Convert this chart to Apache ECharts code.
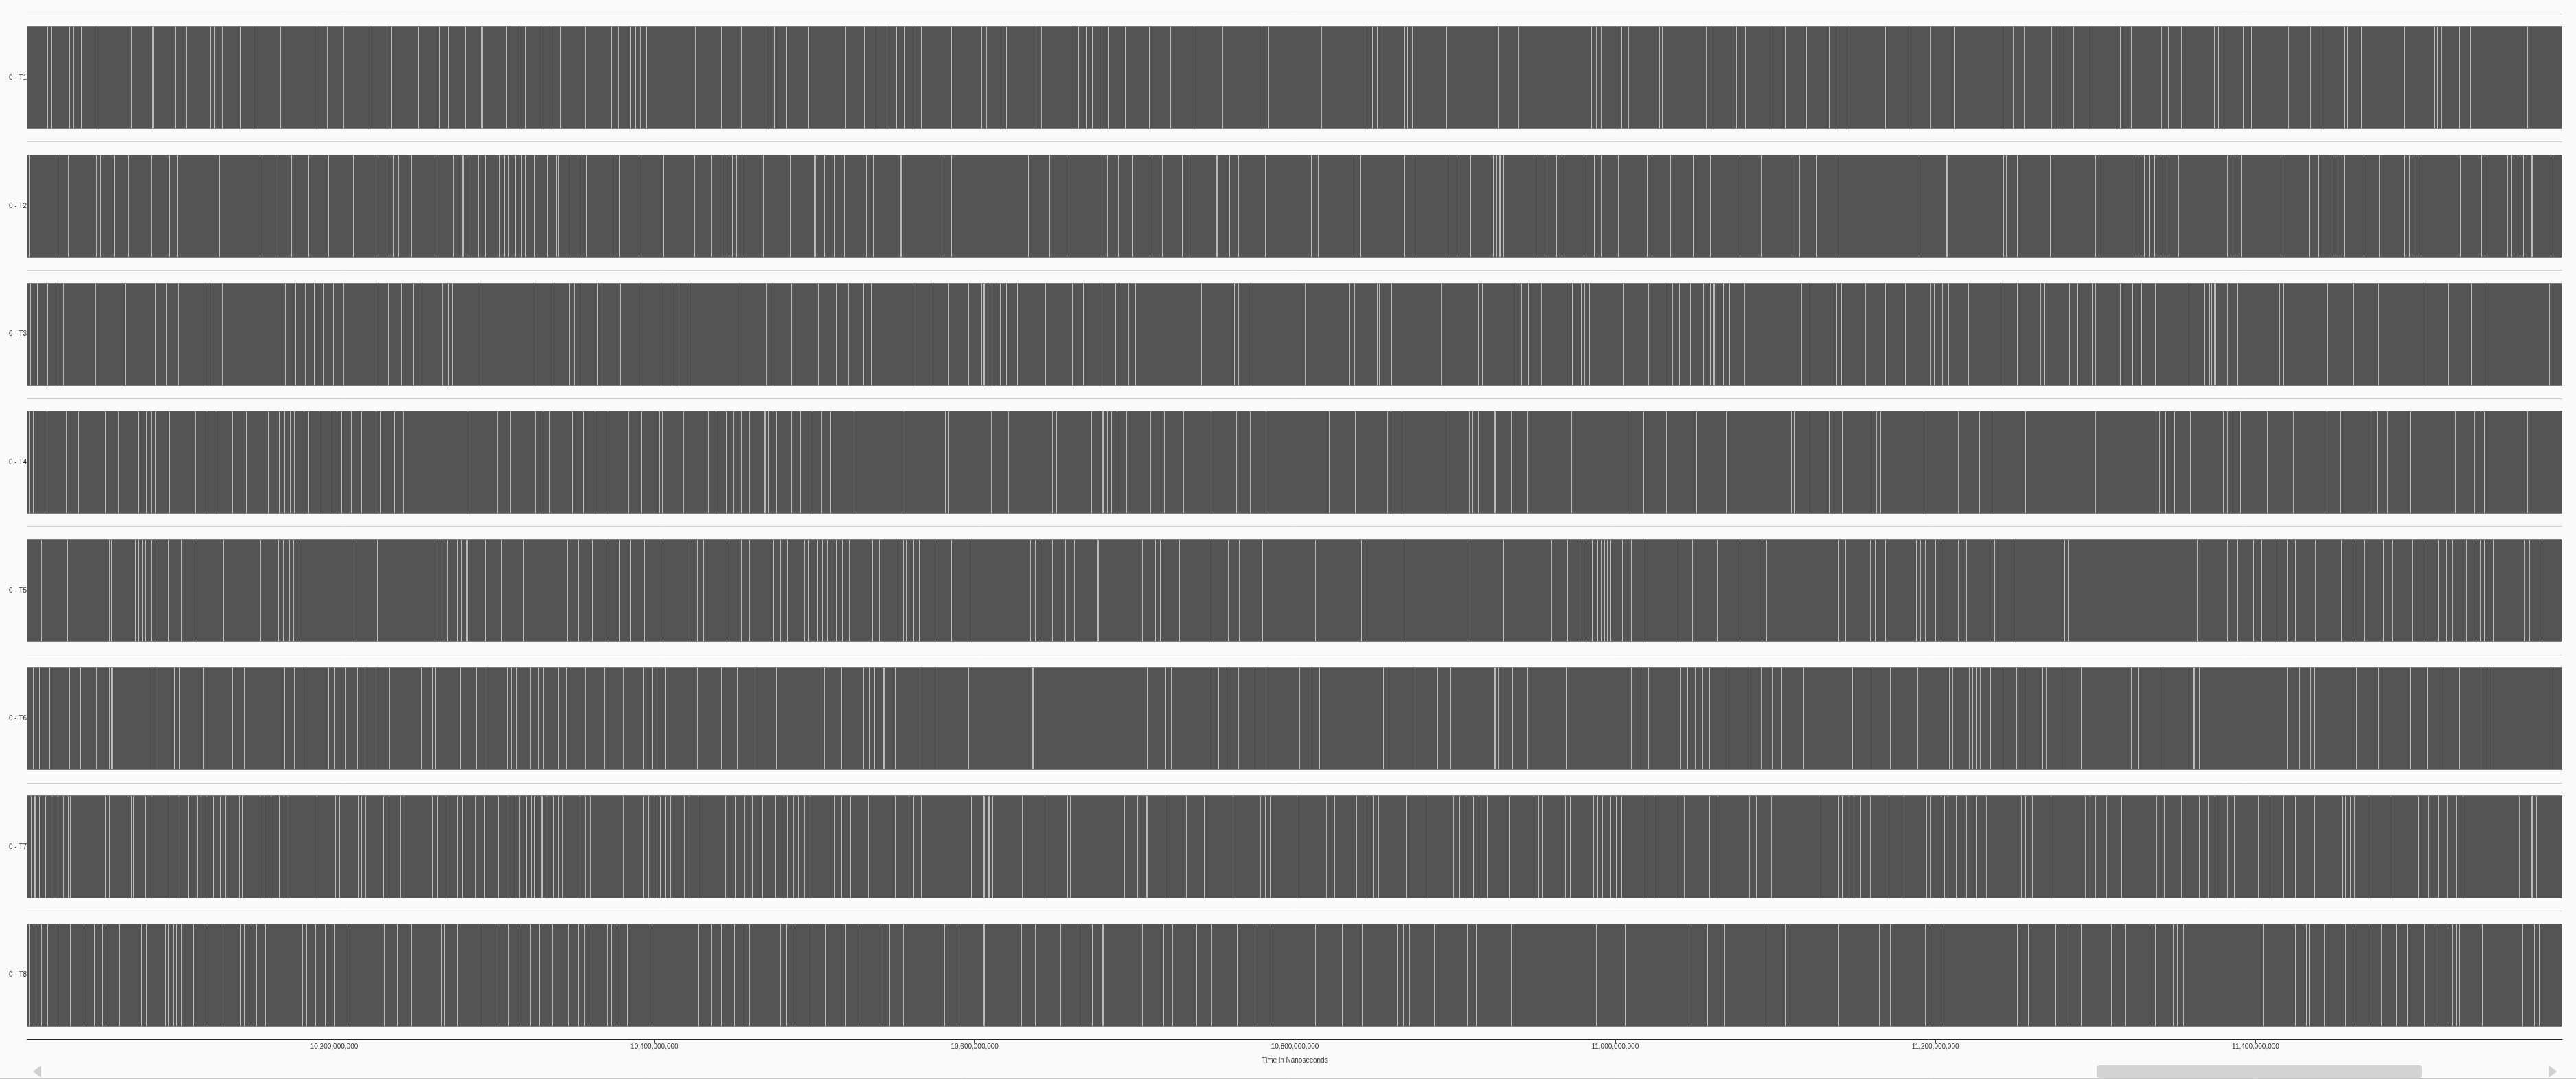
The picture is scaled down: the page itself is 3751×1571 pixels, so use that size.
<!DOCTYPE html>
<html>
<head>
<meta charset="utf-8">
<title>Timeline</title>
<script src="https://cdn.jsdelivr.net/npm/echarts@6/dist/echarts.min.js"></script>
<style>
html, body { margin: 0; padding: 0; background: #fafafa; }
#chart { width: 3751px; height: 1571px; }
</style>
</head>
<body>
<div id="chart"></div>
<script>
// Time base: values below are milliseconds after T0 (10,000,000,000 ns)
const T0 = 10000000000;
const VIEW_START = 8.5;
const VIEW_END = 1591.5;
const GAP_MS = 0.45;

const categories = ['0 - T1', '0 - T2', '0 - T3', '0 - T4', '0 - T5', '0 - T6', '0 - T7', '0 - T8'];
const xTicks = [10200000000, 10400000000, 10600000000, 10800000000, 11000000000, 11200000000, 11400000000];

// idle gaps per location (ms after T0); [t, width] marks a longer idle gap
const gapsT1 = [20.9, 23.1, 34.7, 37.3, 41.8, 52.2, [73.1, 0.7], 84.8, [86.7, 0.7], 100.7, 107.4, 122.6, 125.1, 129.7, 141.3, 149.3, 166.5, 189.2, 195.3, 205.9, 221.5, 232.6, 235.7, 252.3, 265.4, 271.5, 281.6, 292.2, 307.3, 309.4, 316.4, 319.5, 330.1, 335.1, 341.2, 356.8, 373.0, 377.5, 385.1, 388.1, 391.1, 394.7, 425.5, 441.6, 454.2, 470.9, 474.9, 482.5, 496.1, 516.3, 519.4, 531.0, 537.0, 545.1, 551.2, 556.2, 561.3, 566.3, 585.5, 604.2, 607.2, 616.3, 619.8, 638.0, 641.5, 661.2, 662.7, 664.7, 669.8, 673.3, 677.4, 683.4, 694.0, 708.7, 722.3, 736.9, [754.6, 0.7], 779.3, 783.4,
  816.3, 845.0, 848.1, 851.1, 854.1, 868.2, 870.3, 873.3, 894.5, 925.3, 927.3, 939.4, 984.9, 987.9, 990.9, 1001.0, 1004.0, 1008.1, 1027.3, 1029.3, 1056.5, 1061.1, 1073.2, 1075.7, 1081.3, 1096.4, 1106.0, [1119.1, 0.7], 1133.3, 1137.8, 1144.4, 1168.6, 1184.3, 1196.9, 1212.0, 1243.3, 1248.4, 1255.4, 1272.6, 1274.6, 1278.7, 1286.2, 1295.3, 1313.0, 1315.5, 1322.1, 1341.2, 1345.3, 1353.4, 1374.1, 1376.6, 1380.1, 1392.2, 1397.3, 1420.5, 1434.1, 1441.7, 1455.3, 1457.3, 1465.9, 1492.7, 1511.4, 1513.4, 1515.9, 1527.0, 1534.1, 1569.4];

const gapsT2 = [9.5, 28.7, 33.7, 51.4, 53.9, 62.5, 71.6, 85.7, 96.8, 101.9, 126.1, 128.1, 153.4, 164.0, 171.0, 173.1, 183.7, 196.3, 211.9, 226.1, 234.1, 236.7, 240.2, 248.3, 263.9, 274.5, 279.1, [280.1, 0.7], 284.6, 289.7, 294.2, 303.3, 306.3, 308.9, 312.9, 316.9, 319.5, 325.0, 333.1, 338.6, 340.2, 347.7, 354.8, 357.8, 375.0, 378.0, 390.1, 405.8, 425.0, 435.6, 443.6, 446.2, 448.7, 451.2, 454.7, 467.9, 485.0, 500.2, 506.2, 512.3, 518.4, 532.0, 536.5, [553.7, 0.7], 579.4, 585.5, 633.4, 646.6, 657.2, 679.4, 682.9, 689.5, 698.6, 709.2, 717.2, 729.4, 735.4, 751.1, 759.1, 764.7, 781.4,
  810.2, 814.2, 835.4, 841.0, 868.2, 876.3, 896.5, 901.1, 909.6, 923.8, 925.8, 927.8, 930.3, 951.5, 957.1, 963.2, 966.7, 980.3, 986.9, 990.9, 1002.0, 1019.7, 1022.7, 1034.3, 1048.5, 1059.1, 1077.7, 1090.9, 1111.6, 1115.1, 1125.7, 1140.3, 1189.8, 1207.0, 1242.3, 1244.3, 1250.9, 1271.6, 1299.9, 1301.9, 1325.1, 1328.1, 1330.1, 1333.2, 1336.7, 1340.7, 1344.3, 1351.9, 1382.1, 1385.7, 1388.2, 1390.7, 1417.0, 1433.1, 1435.1, 1439.2, 1448.8, 1451.3, 1455.3, 1467.4, 1477.0, 1492.7, 1495.7, 1499.2, 1503.3, 1527.5, 1540.7, 1543.2, 1557.3, 1559.8, 1562.3, 1564.9, 1566.9, 1572.4, 1584.1];

const gapsT3 = [10.0, 14.6, 19.1, 21.1, 26.2, 30.7, 50.9, 68.6, 69.6, 88.3, 95.3, 102.4, 119.1, 121.6, 129.7, 169.5, 175.6, 181.6, 187.2, 193.3, 199.3, 205.9, 227.1, 233.6, 241.7, 249.3, 254.8, 267.5, 269.5, 271.5, 273.5, 290.2, 324.5, 337.1, 346.7, 349.7, 354.8, 364.4, 366.9, 378.5, 391.6, 403.8, 410.8, 414.9, 423.4, 453.2, 469.9, 473.9, 485.5, 502.2, 513.8, 520.9, 530.5, 535.5, 562.8, 573.9, 583.5, 596.1, 604.2, 605.7, 608.2, 610.7, 613.3, 615.8, 619.8, 626.4, 644.0, 660.7, 662.7, 667.8, 679.4, 688.0, 690.0, 696.0, 700.1, 741.5, 759.7, 762.2, 764.7, 772.3,
  806.2, 833.9, 837.0, 851.1, 852.6, 860.2, 891.5, 914.2, 916.7, 937.9, 941.4, 945.5, 953.6, 969.2, 973.2, 978.8, 980.8, 983.8, 1005.0, 1020.7, 1030.8, 1035.8, 1039.9, 1046.9, 1055.0, 1059.1, 1061.6, 1065.1, 1067.6, 1071.2, 1080.8, 1116.1, 1120.1, 1136.3, 1138.3, 1141.3, 1156.0, 1168.6, 1181.2, 1196.9, 1198.9, 1201.9, 1204.4, 1208.0, 1220.6, 1240.8, 1250.9, 1265.5, 1268.1, 1283.7, 1288.7, 1297.8, 1299.9, 1315.5, 1323.1, 1328.6, 1337.2, 1356.9, 1368.0, 1371.0, 1372.5, 1374.1, 1375.1, 1382.1, 1388.7, 1414.9, 1417.5, 1444.7, 1460.9, [1476.5, 0.7], 1504.8, 1520.4, 1534.6, 1544.2, 1583.5];

const gapsT4 = [9.5, 12.0, 20.6, 32.7, 40.3, 57.0, 65.0, 77.7, 82.7, 85.7, 88.3, 96.8, 113.0, 120.6, 126.1, 136.2, 144.8, 158.4, 165.5, 167.0, 169.0, 172.6, 175.1, 181.1, 183.7, 190.2, 197.3, 201.3, [204.4, 0.7], 210.4, 217.0, 226.1, 229.1, 237.7, 243.2, 283.6, 301.8, 309.9, 325.5, 330.1, 334.6, 348.7, 355.3, 362.9, 370.9, 383.6, 392.1, [402.7, 0.7], 404.8, 417.9, 433.5, 438.1, 444.6, 449.2, 454.2, 459.3, 468.9, 471.4, 473.9, 476.0, 485.5, [491.1, 0.7], 498.2, 504.2, 509.8, 524.4, 555.7, 581.4, 583.5, 610.2, 620.8, 648.6, 651.1, 672.8, 677.4, 679.9, 682.9, 685.4, 688.5, 694.5, 709.7, 718.3, [729.9, 0.7], 747.5, 763.2, 771.8, 781.9,
  821.3, 837.5, 857.6, 859.7, 866.7, 894.0, 908.6, 910.7, 914.2, 924.8, 934.9, 945.0, 972.7, 1009.1, 1017.7, 1031.8, 1050.5, 1069.7, 1110.0, 1112.1, 1120.1, 1133.3, 1136.3, 1141.8, 1161.0, 1163.1, 1165.6, 1192.8, 1214.0, 1227.2, 1236.2, 1255.9, 1299.9, 1337.7, 1339.7, 1343.8, 1349.3, 1358.9, 1379.6, 1382.1, 1384.2, 1390.2, 1406.9, 1423.5, 1444.2, 1452.8, 1472.0, 1475.5, 1482.1, 1496.7, 1524.5, 1536.6, 1538.6, 1540.6, 1542.7, 1569.4];

const gapsT5 = [17.1, 33.2, 59.5, 61.0, 75.6, 77.7, 80.2, 81.7, 85.7, 87.8, 96.3, 104.4, 113.5, 130.7, 153.9, 165.0, 168.0, 172.1, 174.6, 179.1, 212.4, 226.6, 263.9, 267.0, 270.5, 277.1, 279.6, [282.6, 0.7], 294.2, 304.3, 318.0, 345.7, 352.3, 360.9, 371.0, 378.0, 385.1, 393.7, 405.3, 421.4, 426.5, 430.5, 445.2, 454.2, 459.3, 474.4, 478.5, 483.0, 493.6, 496.1, 501.7, 504.7, 507.7, 510.8, 513.8, 517.3, 521.4, 536.0, 540.1, 550.7, 555.2, 557.2, 560.2, 561.8, 565.3, 574.9, 585.5, [598.1, 0.7], 634.5, 637.5, 640.5, 648.6, 656.7, 662.2, 676.9, 704.6, 712.7, 715.7, 727.8, 746.0, 758.1, 765.2, 779.8,
  812.7, 841.5, 845.0, 869.3, 909.1, 928.3, 930.3, [960.1, 0.7], 970.2, 977.8, 981.8, 985.4, 988.9, 990.9, 993.4, 995.0, 997.0, 1004.5, 1010.1, 1017.2, 1037.9, 1048.0, [1063.6, 0.7], 1077.7, 1091.4, 1094.4, 1139.3, 1143.9, 1159.0, 1162.0, 1168.6, 1187.8, 1190.3, 1193.3, 1199.9, 1203.4, 1214.0, 1219.1, 1233.7, 1236.8, 1249.9, 1280.7, [1282.7, 0.7], 1363.5, 1365.0, 1382.1, 1388.7, 1398.3, 1403.8, 1411.9, 1419.5, 1424.5, 1437.2, 1453.3, 1462.4, 1467.9, 1479.6, 1485.1, 1497.7, 1504.8, 1513.9, 1518.9, 1523.0, 1531.6, 1537.6, 1540.1, 1542.7, 1545.7, 1548.2, 1567.9, 1570.9, 1578.5];

const gapsT6 = [12.0, 15.6, 22.1, 34.7, 41.3, 51.4, 59.5, [61.0, 0.7], 86.2, 89.3, 100.4, 103.4, [118.0, 0.7], 136.2, 143.8, 169.0, 175.1, 182.2, 196.3, 198.3, 200.3, 206.9, 214.5, 219.0, 226.1, 234.7, [254.3, 0.7], 260.9, 263.4, 278.6, 288.7, 294.7, 307.8, 310.4, 313.9, 322.5, 327.5, 330.6, 340.2, [344.7, 0.7], 356.8, 368.9, 380.5, 393.2, 398.7, 401.2, 403.8, 406.8, 426.5, 441.6, [451.7, 0.7], 462.8, [475.9, 0.7], 503.7, 506.2, 516.8, 530.5, 532.5, 534.5, 537.5, 543.1, 550.2, 565.8, 574.9, 596.1, [636.0, 0.7], 707.6, 719.3, 722.8, 746.0, 752.1, 758.6, 764.7, 773.8, 781.9,
  802.6, 810.7, 815.2, 855.1, 858.7, 874.8, 888.9, 897.0, 924.8, 927.3, 929.8, 935.9, 945.0, 969.7, 1010.1, 1014.6, 1020.7, 1040.9, 1044.9, 1050.0, 1054.5, 1058.6, 1069.2, 1082.8, 1090.9, 1097.9, 1104.0, 1117.6, 1147.9, 1161.0, 1171.6, 1188.8, 1208.5, 1210.5, 1221.1, 1223.1, 1225.6, 1227.7, 1234.2, 1243.3, 1250.4, 1256.9, 1267.0, 1269.1, 1280.2, 1290.8, 1322.1, 1326.6, 1341.8, 1356.9, 1361.4, 1364.5, 1419.5, 1427.1, 1434.1, 1436.7, 1462.9, 1476.5, 1480.1, 1496.7, 1506.8, 1515.4, [1527.0, 0.7], 1540.6, 1543.2, 1545.7, 1584.1];

const gapsT7 = [10.5, 13.0, 15.6, 19.6, 23.6, 27.2, 30.7, 33.7, 35.3, 57.0, 59.5, 71.1, 73.1, 74.6, 81.7, 83.7, 86.2, 97.3, 102.9, 109.0, 111.0, 114.5, 116.5, 120.6, 124.1, 129.1, 132.2, 140.8, 142.8, 145.3, 153.4, 155.9, 160.4, 163.0, 165.5, 168.5, 171.0, 189.2, 200.8, 203.4, 215.0, 217.0, 219.5, 230.6, 234.1, 241.2, 243.7, 260.9, 264.4, 269.5, 277.1, 280.1, 288.2, 293.7, 302.3, 308.4, 313.4, 315.4, 320.0, 321.5, 323.0, 325.0, 327.0, 329.5, 332.6, 336.6, 340.2, 342.7, 353.3, 356.8, 359.8, 380.5, 393.2, 396.2, 399.7, 403.3, 406.8, 409.8, 418.4, 421.4, 427.0, 444.1, 450.2, 456.3, 460.8, 467.4, 475.4, 477.5, 480.5, 483.0, 486.5, 489.6, 493.6, 497.1, 512.3, 516.8, 522.4, 533.5, 550.2, 558.7, 561.8, 566.3, [597.6, 0.7], 605.7, 608.7, 611.2, 629.4, 643.5, 657.7, 659.7, 693.5, 701.6, [707.1, 0.7], 718.8, 731.9, 743.0, 761.1, 778.3, 781.4, 784.9,
  801.1, 819.3, 824.8, 838.5, 845.0, 848.6, 852.1, 869.8, 882.9, 899.0, 902.6, 906.6, 911.2, 914.7, 919.7, 933.9, 949.0, 952.0, 954.6, 968.7, 971.7, 986.4, 988.9, 991.9, 997.0, 1000.5, 1004.0, 1017.2, 1024.2, 1037.9, [1042.9, 0.7], 1058.6, 1064.1, 1083.8, 1087.8, 1097.4, 1127.2, 1139.3, 1141.8, 1145.9, 1148.9, 1153.0, 1159.0, 1170.6, 1180.2, 1194.3, 1196.9, 1203.4, 1205.5, 1207.5, 1213.0, 1219.1, 1225.6, 1231.7, 1253.4, 1255.9, 1260.5, 1272.1, 1293.3, 1296.3, 1299.9, 1306.9, 1316.0, 1338.2, 1342.8, 1353.4, 1364.5, 1370.0, 1374.6, 1382.1, 1386.7, 1401.3, 1408.9, 1417.5, 1424.5, 1436.7, 1453.8, 1455.8, 1458.9, 1461.4, 1470.5, 1484.1, 1501.3, 1507.8, 1511.9, 1513.9, 1519.4, 1525.0, 1529.5, 1564.4, 1572.4, 1575.0];

const gapsT8 = [9.5, 13.5, 17.1, 21.1, 28.7, 35.3, 43.8, 49.9, 55.4, 57.5, [65.5, 0.7], 79.7, 82.7, 94.3, 96.3, 99.4, 101.4, 104.4, 112.0, 120.6, 130.2, 141.3, 143.8, 147.8, 151.4, 156.9, 180.1, 182.7, 188.2, 194.3, 200.3, 207.9, 231.1, 239.2, 248.3, 266.5, 269.0, 277.1, 292.7, 301.3, 308.9, 316.4, 322.5, 328.0, [336.1, 0.7], 346.2, 352.3, 356.3, 358.8, 370.4, 373.0, 376.5, 383.1, 398.2, 427.5, 430.0, 435.6, 441.6, 449.7, 454.7, 459.3, 478.5, 482.5, 487.6, 495.6, [506.7, 0.7], 519.4, 526.9, 542.1, 546.6, 555.2, 581.0, 583.0, 590.0, 605.7, 628.9, 637.5, 653.6, 666.8, 673.3, 679.9, 704.6, 717.7, 723.3, 738.4, 748.0, 763.7, 774.8, 784.4,
  812.7, 829.4, 830.9, 842.0, 863.7, 867.7, 869.3, 871.3, 886.9, 907.6, 909.1, 913.2, 934.9, 987.9, 1006.1, [1045.9, 0.7], 1057.5, 1068.2, 1092.9, 1106.0, 1109.0, [1139.3, 0.7], 1164.6, 1166.6, 1171.6, 1193.3, 1196.4, 1204.9, 1250.9, 1258.0, 1275.1, 1282.7, 1290.8, 1309.9, 1318.5, 1333.7, 1337.2, 1348.3, 1350.8, 1354.9, 1404.3, 1424.5, 1431.6, 1433.1, 1435.1, 1442.7, 1455.8, 1462.4, 1470.5, 1478.1, 1487.6, 1494.7, 1505.3, 1512.9, 1518.4, 1521.0, 1523.0, 1525.0, 1527.0, 1541.5, 1566.4, 1574.0, 1576.9];

const rowGaps = [gapsT1, gapsT2, gapsT3, gapsT4, gapsT5, gapsT6, gapsT7, gapsT8];

const toNs = ms => T0 + ms * 1e6;

function buildSegments(gaps) {
  const segs = [];
  let cur = VIEW_START;
  gaps.forEach(g => {
    const t = Array.isArray(g) ? g[0] : g;
    const w = Array.isArray(g) ? g[1] : GAP_MS;
    if (t > cur) segs.push([cur, t]);
    cur = Math.max(cur, t + w);
  });
  if (VIEW_END > cur) segs.push([cur, VIEW_END]);
  return segs;
}

const segData = [];
const trackData = [];
rowGaps.forEach((gaps, r) => {
  trackData.push([r, toNs(VIEW_START), toNs(VIEW_END)]);
  buildSegments(gaps).forEach(s => segData.push([r, toNs(s[0]), toNs(s[1])]));
});

const BAR_RATIO = 0.804;

function renderTrack(params, api) {
  const r = api.value(0);
  const s = api.coord([api.value(1), r]);
  const e = api.coord([api.value(2), r]);
  const h = api.size([0, 1])[1] * BAR_RATIO;
  const y = Math.round(s[1] - h / 2);
  const x0 = Math.round(s[0]), x1 = Math.round(e[0]);
  return {
    type: 'group',
    children: [
      { type: 'rect', shape: { x: x0, y: y, width: x1 - x0, height: Math.round(h) },
        style: { fill: '#bababa' } },
      { type: 'rect', shape: { x: x0, y: y, width: x1 - x0, height: 1 }, style: { fill: '#7e7e7e' } },
      { type: 'rect', shape: { x: x0, y: y + Math.round(h) - 1, width: x1 - x0, height: 1 }, style: { fill: '#7e7e7e' } }
    ]
  };
}

function renderSeg(params, api) {
  const r = api.value(0);
  const s = api.coord([api.value(1), r]);
  const e = api.coord([api.value(2), r]);
  const h = api.size([0, 1])[1] * BAR_RATIO;
  const y = Math.round(s[1] - h / 2);
  const x0 = Math.round(s[0]), x1 = Math.round(e[0]);
  if (x1 <= x0) return null;
  return {
    type: 'rect',
    shape: { x: x0, y: y + 1, width: x1 - x0, height: Math.round(h) - 2 },
    style: { fill: '#545454' }
  };
}

const FONT = 'Liberation Sans, Arial, sans-serif';

const chart = echarts.init(document.getElementById('chart'), null, { renderer: 'canvas' });
chart.setOption({
  backgroundColor: '#fafafa',
  animation: false,
  grid: { left: 40, right: 20, top: 20, bottom: 58, containLabel: false, outerBoundsMode: 'none' },
  xAxis: {
    type: 'value',
    min: toNs(VIEW_START),
    max: toNs(VIEW_END),
    splitNumber: 8,
    minInterval: xTicks[1] - xTicks[0],
    maxInterval: xTicks[1] - xTicks[0],
    name: 'Time in Nanoseconds',
    nameLocation: 'middle',
    nameGap: 26,
    nameTextStyle: { fontSize: 10, color: '#333', fontFamily: FONT },
    axisLine: { show: true, lineStyle: { color: '#222', width: 1 } },
    axisTick: { show: true, length: 5, lineStyle: { color: '#444' } },
    axisLabel: {
      fontSize: 10, color: '#333', fontFamily: FONT, margin: 6,
      showMinLabel: false, showMaxLabel: false,
      formatter: v => (xTicks.indexOf(v) >= 0 ? v.toLocaleString('en-US') : '')
    },
    splitLine: { show: false }
  },
  yAxis: {
    type: 'category',
    data: categories,
    inverse: true,
    name: 'Location',
    nameLocation: 'middle',
    nameGap: 33,
    nameTextStyle: { fontSize: 10, color: '#333', fontFamily: FONT },
    axisLine: { show: false },
    axisTick: { show: false },
    axisLabel: { fontSize: 10, color: '#333', fontFamily: FONT, margin: 1 },
    splitLine: { show: true, lineStyle: { color: '#cdcdcd', width: 1 } }
  },
  series: [
    { type: 'custom', name: 'track', renderItem: renderTrack, data: trackData,
      encode: { x: [1, 2], y: 0 }, silent: true, z: 1 },
    { type: 'custom', name: 'busy', renderItem: renderSeg, data: segData,
      encode: { x: [1, 2], y: 0 }, silent: true, z: 2 }
  ],
  graphic: [
    { type: 'line', shape: { x1: 0, y1: 1570.5, x2: 3751, y2: 1570.5 }, style: { stroke: '#c4c4c4', lineWidth: 1 }, silent: true },
    { type: 'polygon', shape: { points: [[48, 1560], [60, 1551], [60, 1569]] }, style: { fill: '#d0d0d0' }, silent: true },
    { type: 'polygon', shape: { points: [[3723, 1560], [3711, 1551], [3711, 1569]] }, style: { fill: '#d0d0d0' }, silent: true },
    { type: 'rect', shape: { x: 3053, y: 1551, width: 474, height: 18, r: 4 }, style: { fill: '#d3d3d3' }, silent: true }
  ]
});
</script>
</body>
</html>
